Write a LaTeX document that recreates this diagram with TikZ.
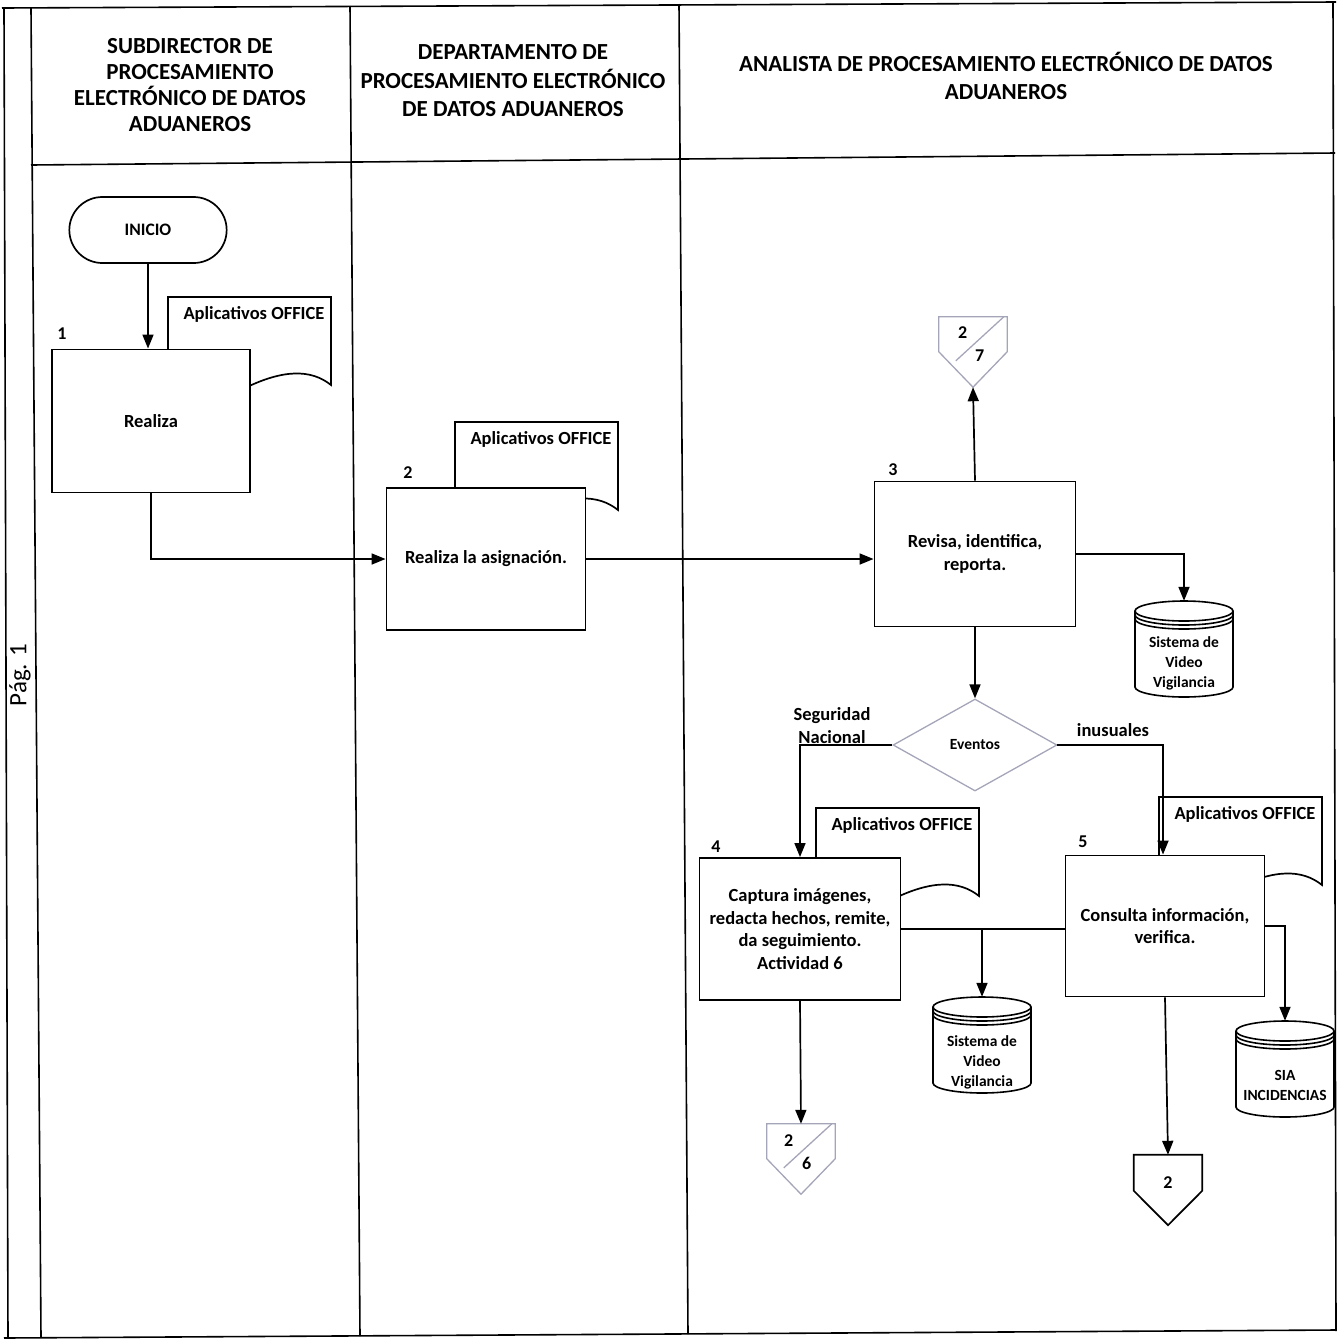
\documentclass[tikz,border=0pt]{standalone}
\usepackage{fontspec}
\setmainfont{Carlito}
\usetikzlibrary{shapes.misc,shapes.geometric,arrows.meta,calc}
\definecolor{graycol}{RGB}{165,165,185}
\newcommand\docshape[2]{%
  \draw[docline] (#1-163,#2) -- (#1,#2) -- (#1,#2+88) .. controls (#1-20,#2+72) and (#1-48,#2+72) .. (#1-88,#2+92) -- (#1-163,#2+92) -- cycle;}
\newcommand\cylshape[2]{%
  \draw[dbline] (#1-49,#2-38) -- (#1-49,#2+38) arc[start angle=180,end angle=0,x radius=49,y radius=10] -- (#1+49,#2-38);
  \draw[dbline] (#1,#2-38) ellipse[x radius=49,y radius=10];
  \draw[dbline] (#1-49,#2-34) arc[start angle=180,end angle=0,x radius=49,y radius=10];
  \draw[dbline] (#1-49,#2-30) arc[start angle=180,end angle=0,x radius=49,y radius=10];}
\begin{document}
\begin{tikzpicture}[x=1pt,y=-1pt,
  frame/.style={line width=1.6pt},
  proc/.style={draw,line width=1.9pt,fill=white,inner sep=2pt,align=center,font=\bfseries\fontsize{18.5}{22.8}\selectfont},
  docline/.style={line width=1.7pt,fill=white},
  doctext/.style={font=\bfseries\fontsize{18.5}{20}\selectfont},
  dbline/.style={line width=1.6pt},
  dbbox/.style={minimum width=98pt,minimum height=96pt,inner sep=0pt},
  dbtext/.style={align=center,font=\bfseries\fontsize{15.5}{20}\selectfont},
  head/.style={align=center,font=\bfseries\fontsize{23}{26}\selectfont},
  numf/.style={font=\bfseries\fontsize{18}{20}\selectfont,inner sep=0pt},
  lbl/.style={align=center,font=\bfseries\fontsize{18.5}{23}\selectfont},
  offp/.style={minimum width=68pt,minimum height=70pt,inner sep=0pt},
  line/.style={line width=1.7pt},
  arr/.style={line width=1.7pt,-{Triangle[length=14pt,width=11pt]}}
]
\useasboundingbox (0,0) rectangle (1339,1342);
% frame
\draw[frame] (2,8) -- (1336,2);
\draw[frame] (4,8) -- (8,1338);
\draw[frame] (31,8) -- (41,1337);
\draw[frame] (350,6) -- (360,1336);
\draw[frame] (679,4) -- (688,1334);
\draw[frame] (1333,2) -- (1336,1331);
\draw[frame] (31,165) -- (1335,153);
\draw[frame] (4,1338) -- (1336,1330);
\node[rotate=90,font=\fontsize{25}{28}\selectfont] (pag) at (20,675) {Pág. 1};
% headers
\node[head] (h1) at (190,85) {SUBDIRECTOR DE\\PROCESAMIENTO\\ELECTRÓNICO DE DATOS\\ADUANEROS};
\node[head,font=\bfseries\fontsize{23}{28.5}\selectfont] (h2) at (513,81) {DEPARTAMENTO DE\\PROCESAMIENTO ELECTRÓNICO\\DE DATOS ADUANEROS};
\node[head,font=\bfseries\fontsize{23}{28}\selectfont] (h3) at (1006,76) {ANALISTA DE PROCESAMIENTO ELECTRÓNICO DE DATOS\\ADUANEROS};
% start
\node[draw,rounded rectangle,line width=1.7pt,minimum width=164pt,minimum height=66pt,font=\bfseries\fontsize{17.5}{18}\selectfont] (inicio) at (148,230) {INICIO};
% documents
\docshape{331}{297}
\node[doctext] (d1) at (254,314) {Aplicativos OFFICE};
\docshape{618}{422}
\node[doctext] (d2) at (541,439) {Aplicativos OFFICE};
\docshape{979}{808}
\node[doctext] (d4) at (902,825) {Aplicativos OFFICE};
\docshape{1322}{797}
\node[doctext] (d5) at (1245,814) {Aplicativos OFFICE};
% process boxes
\node[proc,minimum width=198pt,minimum height=143pt] (b1) at (151,421) {Realiza};
\node[numf] (n1) at (62,334) {1};
\node[proc,minimum width=199pt,minimum height=142pt] (b2) at (486,559) {Realiza la asignación.};
\node[numf] (n2) at (408,473) {2};
\node[proc,minimum width=201pt,minimum height=145pt] (b3) at (975,554) {Revisa, identifica,\\reporta.};
\node[numf] (n3) at (893,470) {3};
\node[proc,minimum width=201pt,minimum height=142pt] (b4) at (800,929) {Captura imágenes,\\redacta hechos, remite,\\da seguimiento.\\Actividad 6};
\node[numf] (n4) at (716,847) {4};
\node[proc,minimum width=199pt,minimum height=141pt] (b5) at (1165,926) {Consulta información,\\verifica.};
\node[numf] (n5) at (1083,842) {5};
% decision
\node[draw=graycol,line width=1.3pt,diamond,aspect=1.78,minimum width=164pt,minimum height=92pt,inner sep=0pt,font=\bfseries\fontsize{15.5}{16}\selectfont] (dec) at (975,745) {Eventos};
\node[lbl] (ls) at (832,726) {Seguridad\\Nacional};
\node[lbl] (li) at (1113,730) {inusuales};
% databases
\cylshape{1184}{649}
\node[dbbox] (db1) at (1184,649) {};
\node[dbtext] (t1) at (1184,663) {Sistema de\\Video\\Vigilancia};
\cylshape{982}{1045}
\node[dbbox] (db2) at (982,1045) {};
\node[dbtext] (t2) at (982,1062) {Sistema de\\Video\\Vigilancia};
\cylshape{1285}{1069}
\node[dbbox] (db3) at (1285,1069) {};
\node[dbtext] (t3) at (1285,1085) {SIA\\INCIDENCIAS};
% off-page connectors
\node[offp] (c27) at (973,352) {};
\draw[graycol,line width=1.3pt] (c27.north west) -- (c27.north east) -- ($(c27.north east)+(0,35)$) -- (c27.south) -- ($(c27.north west)+(0,35)$) -- cycle;
\draw[graycol,line width=1.3pt] ($(c27.north west)+(17,44)$) -- ($(c27.north west)+(65,0)$);
\node[numf] at ($(c27.north west)+(24,16)$) {2};
\node[numf] at ($(c27.north west)+(41,39)$) {7};
\node[offp] (c26) at (801,1159) {};
\draw[graycol,line width=1.3pt] (c26.north west) -- (c26.north east) -- ($(c26.north east)+(0,35)$) -- (c26.south) -- ($(c26.north west)+(0,35)$) -- cycle;
\draw[graycol,line width=1.3pt] ($(c26.north west)+(17,44)$) -- ($(c26.north west)+(65,0)$);
\node[numf] at ($(c26.north west)+(22,17)$) {2};
\node[numf] at ($(c26.north west)+(40,40)$) {6};
\node[offp] (c2) at (1168,1190) {};
\draw[line width=1.7pt] (c2.north west) -- (c2.north east) -- ($(c2.north east)+(0,36)$) -- (c2.south) -- ($(c2.north west)+(0,36)$) -- cycle;
\node[numf] at ($(c2.north)+(0,28)$) {2};
% connectors
\draw[arr] (inicio.south) -- (inicio.south |- b1.north);
\draw[arr] (b1.south) |- (b2.west);
\draw[arr] (b2.east) -- (b2.east -| b3.west);
\draw[arr] (b3.north) -- (c27.south);
\draw[arr] (b3.east) -| (db1.north);
\draw[arr] (b3.south) -- (dec.north);
\draw[arr] (dec.west) -| (b4.north);
\draw[arr] ([xshift=-1pt]dec.east) -| ([xshift=-2pt]b5.north);
\draw[line] (b4.east) -- (b4.east -| b5.west);
\draw[arr] (b4.east -| db2.north) -- (db2.north);
\draw[arr] (b5.east) -| (db3.north);
\draw[arr] (b4.south) -- (c26.north);
\draw[arr] (b5.south) -- (c2.north);
\end{tikzpicture}
\end{document}
